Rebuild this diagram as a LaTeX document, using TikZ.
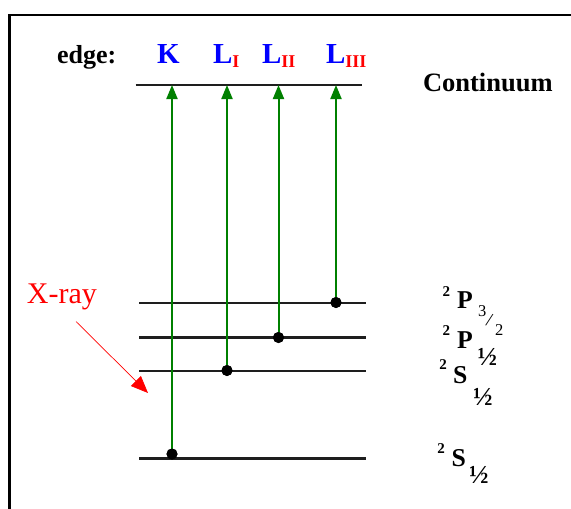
\documentclass[tikz,border=0pt]{standalone}
\usepackage{fontspec}
\setmainfont{Liberation Serif}
\usetikzlibrary{arrows.meta}
\definecolor{agreen}{RGB}{0,128,0}
\definecolor{lvl}{RGB}{30,30,30}
\newcommand{\fs}[1]{\fontsize{#1}{#1}\selectfont}
\begin{document}
\begin{tikzpicture}[x=1pt,y=-1pt,
  txt/.style={inner sep=0pt,outer sep=0pt,anchor=base west},
  level/.style={draw=lvl,line width=2.2pt},
  dot/.style={circle,fill=black,inner sep=0pt,minimum size=11pt},
  garrow/.style={draw=agreen,line width=2pt,-{Triangle[length=14pt,width=11pt]}},
  xarrow/.style={draw=red,line width=0.7pt,-{Triangle[length=17pt,width=14pt]}},
  edgelab/.style={txt,font=\fs{29}\bfseries,text=blue},
  sup/.style={txt,font=\fs{15}\bfseries},
  term/.style={txt,font=\fs{25.7}\bfseries},
  half/.style={txt,font=\fs{26}\bfseries}]
\useasboundingbox (0,0) rectangle (571,509);
\clip (0,0) rectangle (571,509);
% frame
\coordinate (fb) at (9.5,530);
\coordinate (fc) at (9.5,15);
\coordinate (fr) at (590,15);
\draw[line width=2.5pt] (fb) -- (fc) -- (fr);
% header labels
\node[txt,font=\fs{26}\bfseries] (edge) at (57,63) {edge:};
\node[edgelab] (lK) at (157,63) {K};
\node[edgelab] (lL1) at (213,63) {L\raisebox{-4pt}{\textcolor{red}{\fs{18}I}}};
\node[edgelab] (lL2) at (262,63) {L\raisebox{-4pt}{\textcolor{red}{\fs{18}II}}};
\node[edgelab] (lL3) at (326,63) {L\raisebox{-4pt}{\textcolor{red}{\fs{18}III}}};
\node[txt,font=\fs{26.5}\bfseries] (cont) at (423,91.5) {Continuum};
% levels
\coordinate (c0) at (135.5,85); \coordinate (c1) at (361.5,85);
\coordinate (p3a) at (139,303); \coordinate (p3b) at (366,303);
\coordinate (p1a) at (139,337.5); \coordinate (p1b) at (366,337.5);
\coordinate (s2a) at (139,371); \coordinate (s2b) at (366,371);
\coordinate (s1a) at (139,458.5); \coordinate (s1b) at (366,458.5);
\draw[level] (c0) -- (c1);
\draw[level] (p3a) -- (p3b);
\draw[level] (p1a) -- (p1b);
\draw[level] (s2a) -- (s2b);
\draw[level] (s1a) -- (s1b);
% dots and transitions
\node[dot] (dK) at (172,454) {};
\node[dot] (dL1) at (227,370.5) {};
\node[dot] (dL2) at (278.5,337.5) {};
\node[dot] (dL3) at (336,302.5) {};
\coordinate (tK) at (172,85);
\coordinate (tL1) at (227,85);
\coordinate (tL2) at (278.5,85);
\coordinate (tL3) at (336,85);
\draw[garrow] (dK.center) -- (tK);
\draw[garrow] (dL1.center) -- (tL1);
\draw[garrow] (dL2.center) -- (tL2);
\draw[garrow] (dL3.center) -- (tL3);
\node[dot] at (dK) {};
\node[dot] at (dL1) {};
\node[dot] at (dL2) {};
\node[dot] at (dL3) {};
% X-ray
\node[txt,font=\fs{30},text=red] (xray) at (27,303) {X-ray};
\coordinate (xs) at (76,321.5);
\coordinate (xe) at (148,393);
\draw[xarrow] (xs) -- (xe);
% term symbols
\node[sup] (a2) at (442.5,296.7) {2};
\node[term] (aP) at (457,308.3) {P};
\node[txt,font=\fs{16.5}] (a3) at (478,316.5) {3};
\node[inner sep=0pt,font=\fs{19},rotate=-14] (asl) at (489.5,320.5) {/};
\node[txt,font=\fs{16.5}] (a4) at (495,335.5) {2};
\node[sup] (b2) at (442.5,335) {2};
\node[term] (bP) at (457,348.3) {P};
\node[half] (bh) at (477.5,365) {½};
\node[sup] (c2) at (439.3,369.3) {2};
\node[term] (cS) at (453,383.3) {S};
\node[half] (ch) at (473,405) {½};
\node[sup] (d2) at (437.3,453.3) {2};
\node[term] (dS) at (451.7,466.7) {S};
\node[half] (dh) at (469,483.3) {½};
\end{tikzpicture}
\end{document}
